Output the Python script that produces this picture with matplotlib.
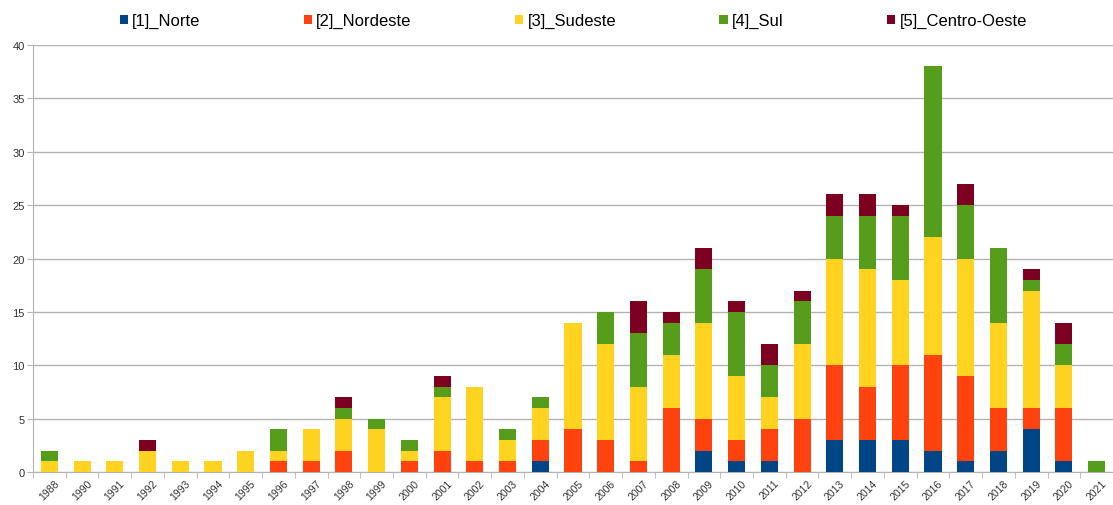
import matplotlib
matplotlib.use("Agg")
import matplotlib.pyplot as plt
import numpy as np

plt.rcParams['font.family'] = ['Liberation Sans', 'DejaVu Sans']

years = ["1988", "1990", "1991", "1992", "1993", "1994", "1995", "1996", "1997", "1998",
         "1999", "2000", "2001", "2002", "2003", "2004", "2005", "2006", "2007", "2008",
         "2009", "2010", "2011", "2012", "2013", "2014", "2015", "2016", "2017", "2018",
         "2019", "2020", "2021"]
norte =       [0, 0, 0, 0, 0, 0, 0, 0, 0, 0, 0, 0, 0, 0, 0, 1, 0, 0, 0, 0, 2, 1, 1, 0, 3, 3, 3, 2, 1, 2, 4, 1, 0]
nordeste =    [0, 0, 0, 0, 0, 0, 0, 1, 1, 2, 0, 1, 2, 1, 1, 2, 4, 3, 1, 6, 3, 2, 3, 5, 7, 5, 7, 9, 8, 4, 2, 5, 0]
sudeste =     [1, 1, 1, 2, 1, 1, 2, 1, 3, 3, 4, 1, 5, 7, 2, 3, 10, 9, 7, 5, 9, 6, 3, 7, 10, 11, 8, 11, 11, 8, 11, 4, 0]
sul =         [1, 0, 0, 0, 0, 0, 0, 2, 0, 1, 1, 1, 1, 0, 1, 1, 0, 3, 5, 3, 5, 6, 3, 4, 4, 5, 6, 16, 5, 7, 1, 2, 1]
centro_oeste = [0, 0, 0, 1, 0, 0, 0, 0, 0, 1, 0, 0, 1, 0, 0, 0, 0, 0, 3, 1, 2, 1, 2, 1, 2, 2, 1, 0, 2, 0, 1, 2, 0]

series = [("[1]_Norte", norte, "#004586"),
          ("[2]_Nordeste", nordeste, "#ff420e"),
          ("[3]_Sudeste", sudeste, "#ffd320"),
          ("[4]_Sul", sul, "#579d1c"),
          ("[5]_Centro-Oeste", centro_oeste, "#7e0021")]

fig = plt.figure(figsize=(11.13, 5.06), dpi=100)
ax = fig.add_axes([33/1113, 33/506, 1 - 33/1113, 427/506])

x = np.arange(len(years))
bottom = np.zeros(len(years))
handles = []
for name, vals, col in series:
    v = np.array(vals, dtype=float)
    b = ax.bar(x, v, width=0.52, bottom=bottom, color=col, label=name, zorder=3)
    handles.append(b)
    bottom += v

ax.set_ylim(0, 40)
ax.set_yticks(range(0, 41, 5))
ax.set_xlim(-0.5, 32.17)
ax.yaxis.grid(True, color="#b3b3b3", linewidth=1, zorder=0)
ax.set_axisbelow(True)
for s in ["top", "right"]:
    ax.spines[s].set_visible(False)
ax.spines["left"].set_color("#b3b3b3")
ax.spines["bottom"].set_color("#b3b3b3")
ax.tick_params(axis="y", labelsize=8, colors="#b3b3b3", labelcolor="#333333", length=4, pad=2)
ax.set_xticks(x)
ax.set_xticklabels(years, rotation=45, fontsize=7.5, color="#333333")
ax.tick_params(axis="x", length=0, pad=4)
ax.set_xticks(np.arange(-0.5, len(years), 1), minor=True)
ax.tick_params(axis="x", which="minor", length=4, color="#b3b3b3")

fig.legend(handles=handles, loc="center", bbox_to_anchor=(0.515, 0.957), ncol=5,
           frameon=False, fontsize=12, handlelength=0.5, handleheight=0.5,
           handletextpad=0.25, columnspacing=6.2)

fig.savefig("out.png", dpi=100)
